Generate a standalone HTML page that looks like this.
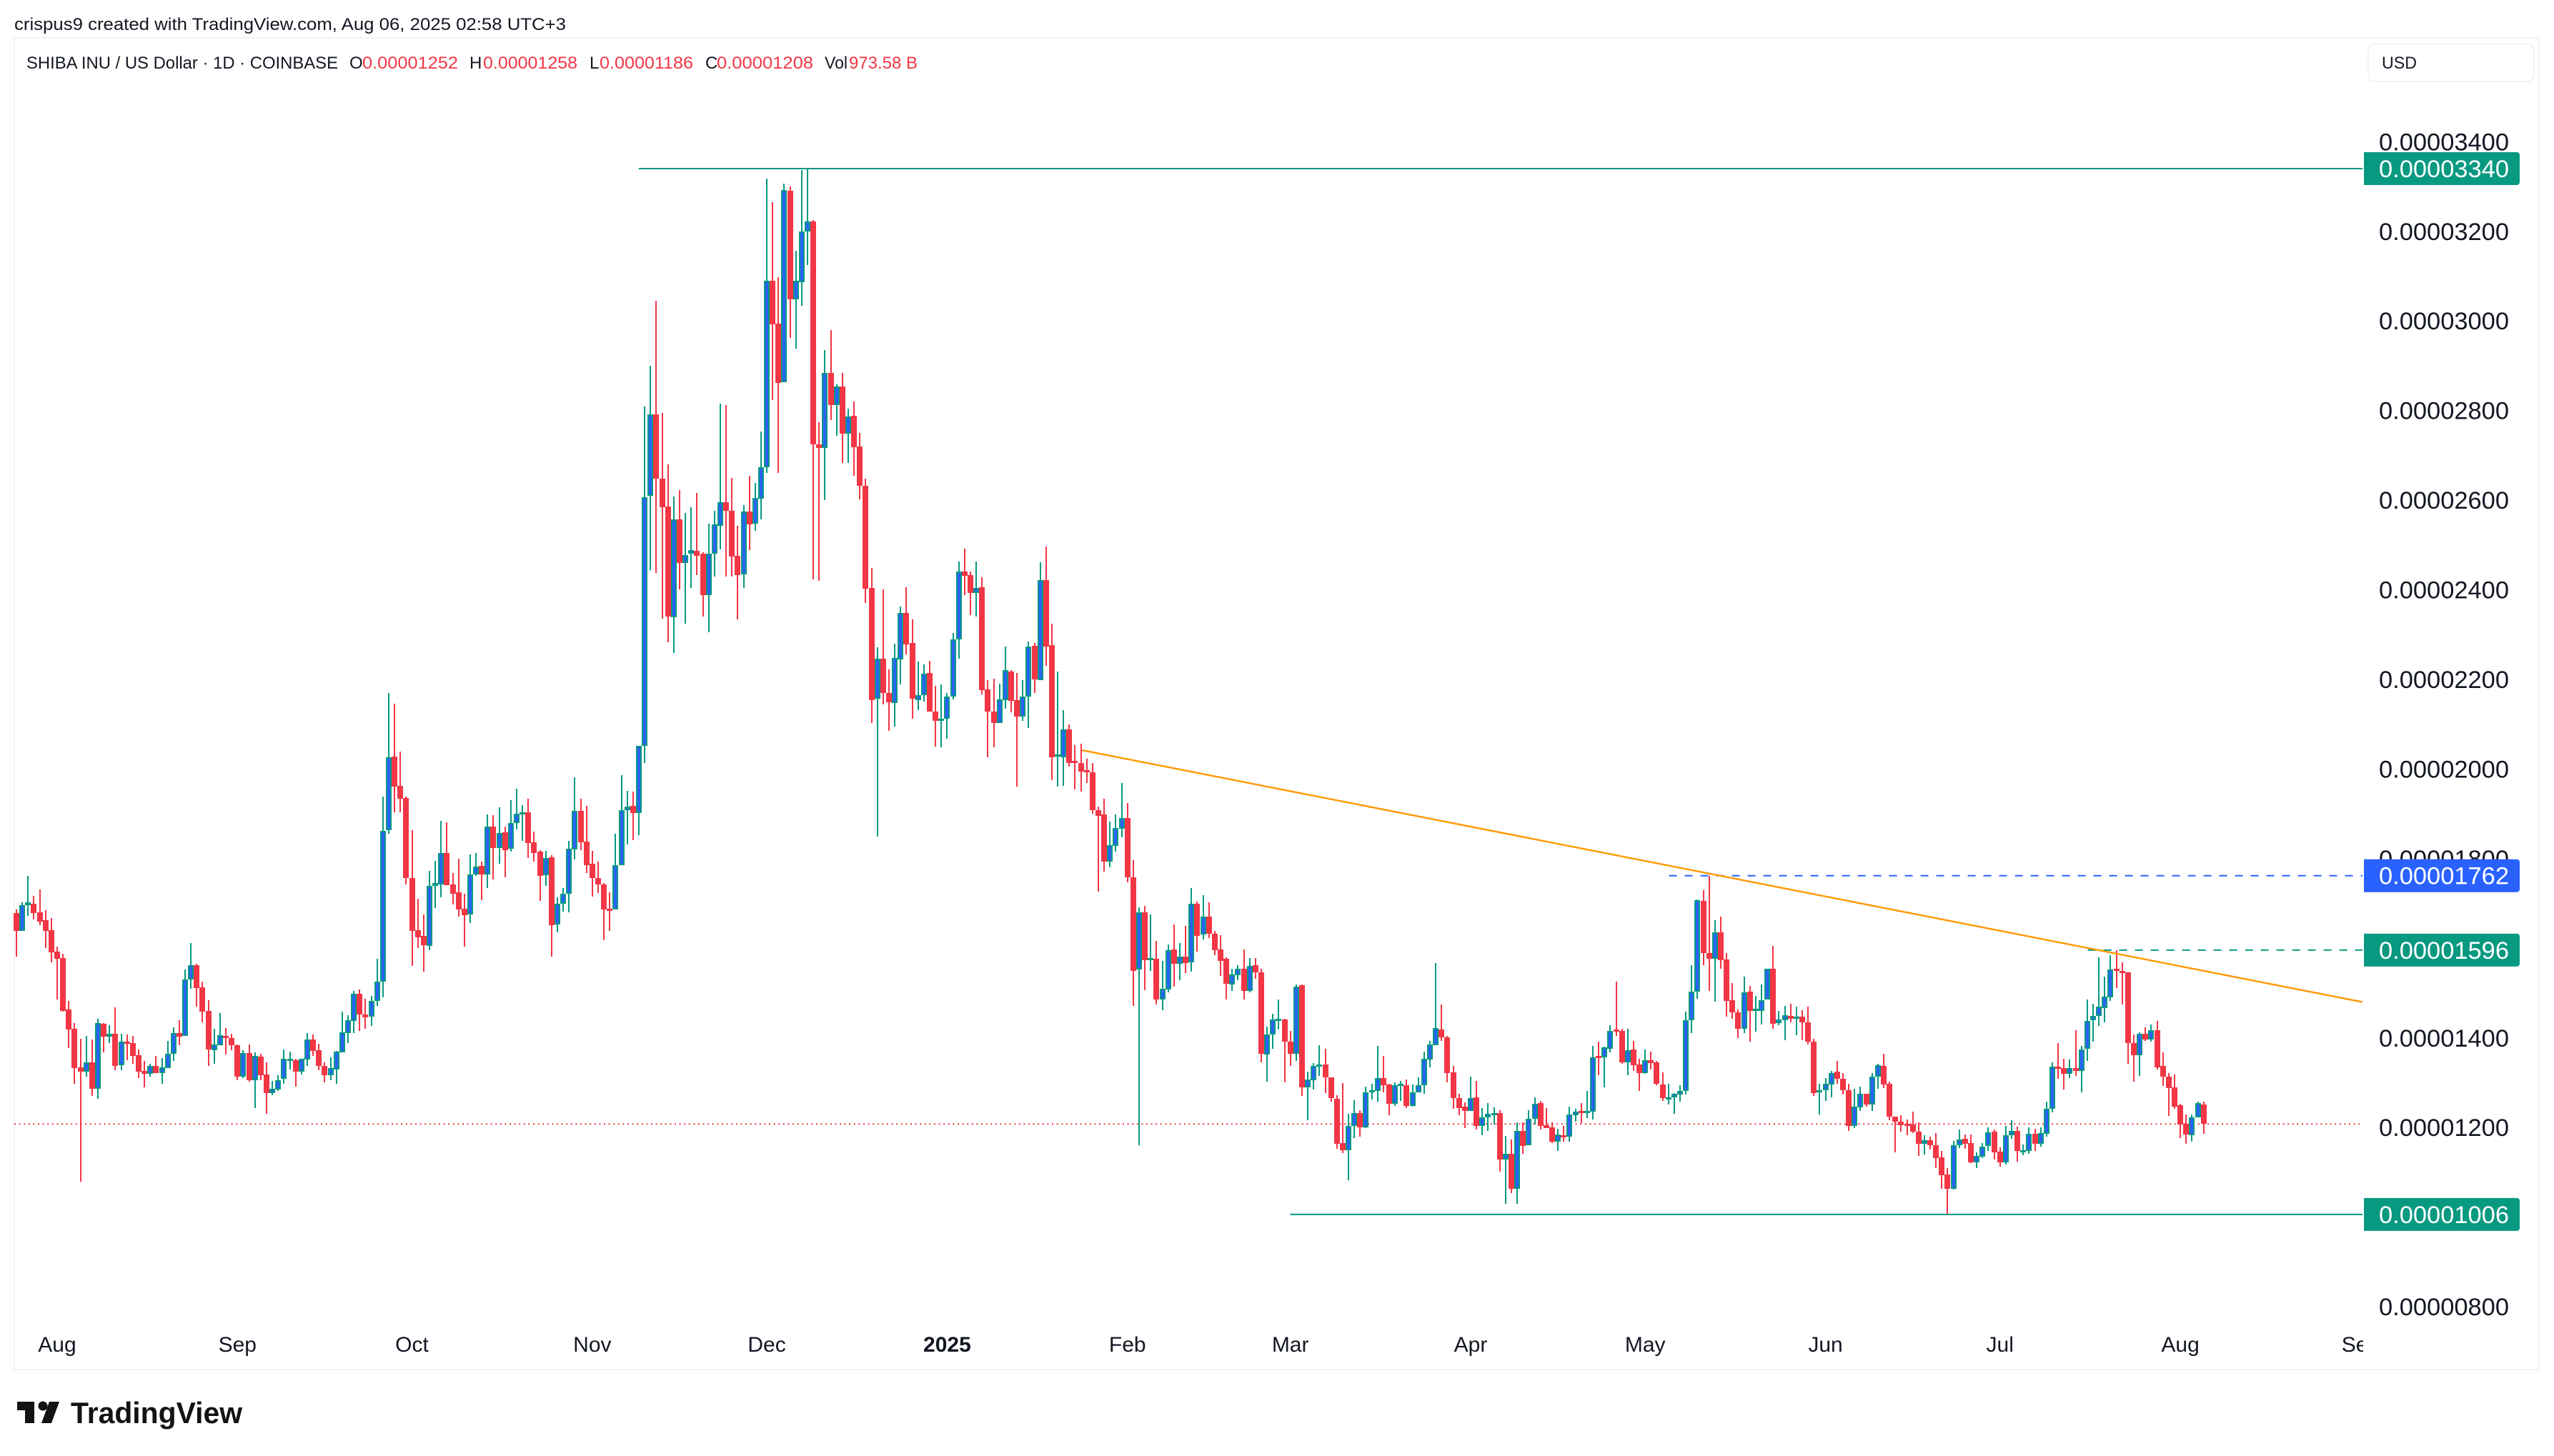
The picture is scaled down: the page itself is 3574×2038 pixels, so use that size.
<!DOCTYPE html>
<html lang="en">
<head>
<meta charset="utf-8">
<title>SHIBA INU / US Dollar chart</title>
<style>
html,body{margin:0;padding:0;background:#fff;width:3574px;height:2038px;overflow:hidden}
svg{display:block}
text{font-family:"Liberation Sans",sans-serif}
</style>
</head>
<body>
<svg id="chart" xmlns="http://www.w3.org/2000/svg" width="3574" height="2038" viewBox="0 0 3574 2038">
  <defs>
    <clipPath id="time-clip"><rect x="20" y="1860" width="3287" height="50"/></clipPath>
  </defs>
  <rect x="0" y="0" width="3574" height="2038" fill="#ffffff"/>
  <rect x="20" y="53" width="3533" height="1864" fill="none" stroke="#f3f3f3" stroke-width="2"/>

  <text x="20" y="42" font-size="24" fill="#131722" textLength="772" lengthAdjust="spacingAndGlyphs">crispus9 created with TradingView.com, Aug 06, 2025 02:58 UTC+3</text>

  <g font-size="24">
    <text x="37" y="96" fill="#131722" textLength="436" lengthAdjust="spacingAndGlyphs">SHIBA INU / US Dollar · 1D · COINBASE</text>
    <text x="489" y="96" fill="#131722">O</text>
    <text x="507" y="96" fill="#f23645" textLength="134" lengthAdjust="spacingAndGlyphs">0.00001252</text>
    <text x="657" y="96" fill="#131722">H</text>
    <text x="676" y="96" fill="#f23645" textLength="132" lengthAdjust="spacingAndGlyphs">0.00001258</text>
    <text x="825" y="96" fill="#131722">L</text>
    <text x="839" y="96" fill="#f23645" textLength="131" lengthAdjust="spacingAndGlyphs">0.00001186</text>
    <text x="987" y="96" fill="#131722">C</text>
    <text x="1003" y="96" fill="#f23645" textLength="135" lengthAdjust="spacingAndGlyphs">0.00001208</text>
    <text x="1154" y="96" fill="#131722" textLength="32" lengthAdjust="spacingAndGlyphs">Vol</text>
    <text x="1188" y="96" fill="#f23645" textLength="96" lengthAdjust="spacingAndGlyphs">973.58 B</text>
  </g>

  <g>
    <rect x="3314" y="62" width="232" height="52" rx="9" fill="#ffffff" stroke="#f2f2f2" stroke-width="2"/>
    <text x="3333" y="96" font-size="24" fill="#131722" textLength="49" lengthAdjust="spacingAndGlyphs">USD</text>
  </g>

  <g id="last-price-layer"></g>
  <g id="candles"></g>
  <g id="drawings"></g>
  <g id="price-axis"></g>
  <g id="price-labels"></g>
  <g id="time-axis" clip-path="url(#time-clip)"></g>

  <g>
    <g fill="#131313">
      <path d="M24 1962H48V1992H35V1974H24Z"/>
      <circle cx="60" cy="1968" r="6.5"/>
      <path d="M69 1962H83L72 1992H58Z"/>
    </g>
    <text x="99" y="1992" font-size="42" font-weight="700" fill="#131313" textLength="240" lengthAdjust="spacingAndGlyphs">TradingView</text>
  </g>
</svg>
<script>
// Prices are expressed in units of 0.00000001 USD.
const openPrices = [
1679,1638,1696,1700,1680,1663,1640,1593,1578,1463,
1420,1334,1324,1346,1287,1432,1403,1409,1339,1392,
1388,1361,1326,1320,1338,1322,1333,1365,1411,1405,
1531,1562,1513,1460,1373,1384,1404,1399,1383,1314,
1366,1306,1358,1318,1277,1285,1308,1352,1351,1324,
1352,1396,1372,1338,1317,1330,1368,1411,1438,1499,
1453,1448,1482,1525,1863,2028,1962,1935,1757,1640,
1628,1605,1739,1743,1812,1742,1725,1688,1675,1764,
1784,1764,1872,1824,1859,1822,1879,1900,1903,1836,
1816,1763,1803,1653,1699,1721,1821,1907,1838,1789,
1757,1742,1689,1686,1786,1909,1918,1902,2052,2609,
2792,2648,2586,2338,2557,2460,2480,2487,2480,2388,
2480,2543,2596,2577,2476,2434,2574,2547,2604,2673,
3090,2994,2863,3291,3048,3087,3199,3222,2725,2717,
2884,2812,2854,2748,2789,2719,2632,2404,2157,2247,
2169,2148,2245,2348,2281,2153,2165,2214,2128,2111,
2112,2161,2289,2441,2433,2393,2405,2178,2128,2102,
2153,2218,2153,2117,2161,2275,2198,2421,2276,2030,
2027,2088,2018,2014,1997,1992,1908,1898,1793,1828,
1866,1891,1758,1552,1680,1574,1577,1485,1508,1597,
1565,1582,1568,1699,1631,1671,1632,1597,1577,1520,
1540,1555,1505,1562,1546,1363,1407,1440,1441,1392,
1364,1517,1289,1306,1338,1340,1312,1264,1165,1149,
1203,1232,1200,1278,1282,1310,1296,1253,1295,1295,
1248,1278,1294,1352,1384,1419,1401,1323,1266,1246,
1237,1267,1204,1222,1231,1232,1129,1142,1064,1192,
1161,1219,1254,1205,1200,1168,1183,1179,1228,1237,
1236,1236,1359,1357,1376,1419,1416,1345,1374,1340,
1321,1350,1345,1296,1266,1267,1273,1281,1439,1504,
1706,1590,1576,1636,1575,1484,1457,1420,1503,1463,
1461,1485,1555,1433,1439,1449,1442,1448,1435,1391,
1278,1283,1296,1324,1308,1284,1203,1245,1276,1251,
1313,1338,1297,1225,1213,1209,1206,1191,1164,1172,
1161,1133,1095,1063,1160,1175,1165,1123,1135,1159,
1191,1146,1123,1183,1192,1148,1148,1186,1164,1186,
1242,1336,1333,1320,1333,1326,1375,1439,1449,1467,
1491,1555,1550,1547,1389,1362,1409,1397,1417,1337,
1313,1289,1249,1208,1183,1223,1252];
const highPrices = [
1687,1702,1762,1717,1731,1685,1668,1604,1588,1482,
1433,1398,1404,1396,1442,1433,1428,1468,1409,1408,
1404,1374,1349,1342,1360,1355,1393,1424,1439,1552,
1612,1565,1525,1484,1420,1455,1422,1409,1385,1372,
1385,1367,1364,1346,1304,1317,1374,1369,1354,1353,
1410,1408,1387,1346,1356,1371,1458,1450,1505,1508,
1487,1493,1577,1939,2170,2146,2039,1938,1864,1710,
1675,1773,1795,1884,1881,1768,1800,1722,1809,1812,
1793,1899,1897,1915,1872,1931,1956,1919,1934,1860,
1819,1817,1808,1714,1734,1840,1982,1934,1918,1817,
1793,1746,1725,1856,1986,1951,1950,2051,2809,2900,
3045,2795,2680,2608,2622,2571,2584,2616,2484,2547,
2577,2816,2813,2650,2543,2589,2654,2638,2753,3317,
3265,3097,3307,3300,3157,3337,3340,3225,2774,2935,
2980,2858,2884,2805,2820,2750,2648,2448,2272,2401,
2222,2279,2363,2405,2334,2240,2233,2241,2185,2189,
2169,2304,2463,2492,2441,2463,2428,2199,2201,2191,
2273,2221,2214,2199,2285,2281,2461,2496,2324,2217,
2131,2099,2053,2056,2023,2014,1916,1933,1882,1898,
1969,1924,1797,1691,1694,1676,1616,1572,1609,1653,
1612,1650,1734,1704,1718,1703,1638,1629,1580,1555,
1562,1597,1578,1578,1555,1425,1454,1486,1443,1416,
1519,1519,1324,1344,1384,1375,1312,1272,1299,1231,
1261,1239,1291,1297,1382,1360,1297,1300,1304,1307,
1296,1312,1370,1394,1567,1475,1404,1338,1275,1256,
1314,1304,1243,1255,1245,1239,1181,1173,1212,1212,
1239,1267,1259,1243,1212,1197,1203,1246,1242,1254,
1282,1382,1392,1381,1428,1526,1420,1420,1393,1353,
1374,1369,1348,1323,1297,1277,1294,1459,1562,1709,
1730,1762,1663,1671,1590,1523,1463,1536,1516,1494,
1519,1555,1606,1460,1471,1476,1470,1462,1470,1398,
1297,1311,1327,1348,1322,1298,1286,1292,1276,1321,
1342,1364,1302,1225,1227,1218,1235,1212,1182,1179,
1187,1147,1110,1170,1195,1184,1184,1145,1165,1200,
1195,1156,1203,1216,1202,1162,1200,1197,1200,1257,
1346,1389,1353,1352,1417,1382,1486,1476,1579,1536,
1585,1596,1568,1547,1408,1413,1424,1430,1438,1368,
1321,1319,1253,1229,1229,1258,1258];
const lowPrices = [
1581,1638,1673,1665,1651,1601,1569,1486,1458,1378,
1297,1079,1313,1271,1264,1367,1389,1328,1328,1350,
1342,1311,1290,1314,1322,1298,1333,1349,1384,1405,
1510,1470,1435,1338,1342,1384,1363,1373,1305,1310,
1303,1244,1306,1231,1272,1282,1298,1330,1292,1319,
1338,1359,1328,1300,1305,1298,1368,1389,1411,1416,
1420,1427,1472,1491,1856,1904,1904,1743,1561,1600,
1548,1596,1690,1713,1741,1698,1671,1604,1657,1762,
1707,1735,1754,1789,1759,1815,1865,1840,1802,1794,
1705,1740,1582,1636,1682,1681,1799,1819,1768,1716,
1724,1618,1638,1686,1786,1832,1842,1853,2013,2444,
2437,2335,2283,2259,2401,2325,2404,2433,2341,2305,
2430,2490,2430,2430,2334,2404,2489,2531,2557,2661,
2823,2661,2863,2962,2939,3034,3125,2423,2420,2600,
2779,2744,2683,2683,2654,2602,2370,2102,1850,2144,
2086,2095,2189,2256,2113,2131,2150,2128,2050,2049,
2068,2155,2247,2388,2344,2341,2166,2026,2049,2102,
2134,2127,1961,2108,2091,2169,2198,2231,1975,1961,
1962,2005,1954,1949,1969,1901,1726,1771,1781,1816,
1847,1747,1472,1161,1507,1549,1475,1462,1502,1515,
1528,1545,1548,1592,1619,1623,1585,1539,1486,1505,
1529,1485,1502,1532,1345,1303,1375,1418,1300,1338,
1349,1270,1217,1285,1315,1277,1257,1152,1143,1083,
1177,1180,1198,1263,1258,1279,1228,1248,1259,1244,
1246,1278,1276,1335,1384,1394,1300,1242,1228,1198,
1237,1195,1182,1193,1207,1102,1029,1053,1029,1142,
1161,1206,1195,1198,1165,1147,1168,1168,1213,1210,
1221,1218,1316,1290,1367,1405,1342,1316,1327,1281,
1320,1330,1294,1260,1252,1231,1257,1273,1411,1487,
1562,1505,1481,1554,1448,1443,1400,1410,1391,1414,
1430,1485,1421,1428,1395,1434,1406,1395,1386,1270,
1229,1260,1267,1297,1274,1192,1198,1237,1247,1237,
1286,1288,1217,1145,1191,1183,1187,1137,1140,1151,
1110,1063,1006,1061,1154,1152,1121,1110,1132,1148,
1129,1112,1118,1175,1124,1138,1142,1148,1158,1180,
1234,1309,1285,1310,1315,1278,1348,1391,1426,1435,
1482,1512,1475,1343,1302,1315,1394,1392,1329,1293,
1226,1241,1176,1164,1168,1223,1186];
const closePrices = [
1638,1696,1702,1679,1659,1638,1591,1577,1461,1419,
1333,1324,1346,1287,1433,1403,1409,1338,1392,1388,
1360,1325,1320,1338,1322,1334,1364,1411,1403,1530,
1562,1511,1459,1374,1385,1406,1399,1383,1314,1366,
1306,1359,1317,1277,1286,1306,1353,1354,1325,1353,
1396,1371,1338,1316,1333,1369,1412,1439,1499,1452,
1446,1482,1526,1862,2027,1961,1934,1756,1639,1625,
1607,1739,1746,1812,1741,1722,1687,1674,1764,1783,
1764,1871,1823,1857,1819,1879,1901,1904,1835,1813,
1762,1801,1652,1699,1721,1822,1906,1837,1786,1756,
1743,1687,1687,1786,1909,1917,1902,2051,2607,2792,
2648,2584,2340,2557,2460,2477,2489,2476,2388,2480,
2546,2596,2577,2474,2433,2574,2546,2605,2673,3090,
2992,2862,3292,3048,3090,3200,3222,2724,2717,2884,
2812,2854,2748,2787,2718,2632,2403,2153,2246,2169,
2149,2248,2348,2278,2157,2165,2212,2128,2108,2112,
2162,2289,2441,2431,2393,2404,2176,2128,2102,2155,
2221,2152,2117,2162,2273,2200,2421,2274,2027,2033,
2088,2014,2016,1995,1995,1908,1895,1793,1830,1868,
1891,1758,1550,1681,1574,1578,1485,1509,1595,1566,
1582,1567,1699,1628,1670,1632,1595,1572,1521,1541,
1555,1505,1561,1546,1364,1407,1441,1442,1392,1364,
1514,1289,1307,1337,1340,1312,1265,1164,1149,1203,
1232,1200,1278,1283,1310,1295,1253,1294,1297,1248,
1279,1295,1353,1385,1422,1402,1321,1266,1244,1237,
1266,1204,1223,1230,1233,1129,1142,1064,1192,1159,
1219,1253,1204,1199,1168,1184,1179,1229,1236,1234,
1237,1357,1357,1379,1416,1416,1345,1372,1339,1321,
1350,1344,1297,1266,1268,1275,1282,1439,1503,1708,
1589,1576,1636,1573,1483,1457,1420,1502,1461,1465,
1484,1555,1432,1441,1450,1442,1447,1434,1391,1277,
1284,1298,1322,1308,1283,1204,1246,1276,1251,1313,
1339,1296,1224,1213,1205,1206,1190,1163,1171,1161,
1132,1093,1063,1160,1174,1164,1122,1136,1158,1189,
1144,1122,1182,1192,1147,1150,1186,1164,1187,1241,
1336,1332,1320,1333,1326,1374,1438,1449,1469,1492,
1553,1553,1548,1388,1362,1409,1397,1417,1335,1313,
1288,1247,1207,1184,1222,1254,1208];

const priceTicks = [3400,3200,3000,2800,2600,2400,2200,2000,1800,1600,1400,1200,1000,800];
const monthLabels = ['Aug','Sep','Oct','Nov','Dec','2025','Feb','Mar','Apr','May','Jun','Jul','Aug','Sep'];
const monthBarIndex = [7,38,68,99,129,160,191,219,250,280,311,341,372,403];
const lastClose = 1208;
const highLevel = 3340;
const highLevelStartBar = 107;
const lowLevel = 1006;
const lowLevelStartBar = 219;
const swingHighLevel = 1762;
const swingHighStartBar = 284.1;
const swingLowerHighLevel = 1596;
const swingLowerHighStartBar = 356.1;
const trendStartBar = 183.2;
const trendStartPrice = 2042;
const trendEndBar = 403.3;
const trendEndPrice = 1480;

const SVG_NS = 'http://www.w3.org/2000/svg';
const GREEN = '#089981', RED = '#f23645', BLUE = '#2962ff', ORANGE = '#ff9800', INK = '#131722';
const PLOT_LEFT = 20, PLOT_RIGHT = 3306;

function xAt(bar) { return 23 + 8.14 * bar; }
function yAt(price) { return 236 + (3340 - price) * 0.6272; }
function make(tag, attrs) {
  const el = document.createElementNS(SVG_NS, tag);
  for (const k in attrs) el.setAttribute(k, attrs[k]);
  return el;
}
function fmt(price) { return '0.' + String(price).padStart(8, '0'); }

const candleLayer = document.getElementById('candles');
for (let i = 0; i < openPrices.length; i++) {
  const up = closePrices[i] >= openPrices[i];
  const cx = Math.round(xAt(i));
  const hi = Math.round(yAt(highPrices[i]));
  const lo = Math.round(yAt(lowPrices[i]));
  const top = Math.round(yAt(Math.max(openPrices[i], closePrices[i])));
  const bot = Math.round(yAt(Math.min(openPrices[i], closePrices[i])));
  const h = Math.max(bot - top, 3);
  const color = up ? GREEN : RED;
  const wick = make('rect', {x: cx - 1, y: hi, width: 2, height: Math.max(lo - hi, 1), fill: color});
  
  
  candleLayer.appendChild(wick);
  const body = make('rect', {x: cx - 4, y: top, width: 8, height: h, fill: color});
  
  
  candleLayer.appendChild(body);
  if (up && h > 4) {
    const inner = make('rect', {x: cx - 2, y: top + 2, width: 4, height: h - 4, fill: BLUE});
    
    
    candleLayer.appendChild(inner);
  }
}

const lastLayer = document.getElementById('last-price-layer');
const lastLine = make('line', {x1: PLOT_LEFT, x2: PLOT_RIGHT, y1: yAt(lastClose), y2: yAt(lastClose), stroke: RED, 'stroke-width': 2, 'stroke-dasharray': '2 4.6'});


lastLayer.appendChild(lastLine);

const drawLayer = document.getElementById('drawings');
const highLine = make('line', {x1: xAt(highLevelStartBar), x2: PLOT_RIGHT, y1: yAt(highLevel), y2: yAt(highLevel), stroke: GREEN, 'stroke-width': 2});


drawLayer.appendChild(highLine);

const lowLine = make('line', {x1: xAt(lowLevelStartBar), x2: PLOT_RIGHT, y1: yAt(lowLevel), y2: yAt(lowLevel), stroke: GREEN, 'stroke-width': 2});


drawLayer.appendChild(lowLine);

const swingHighLine = make('line', {x1: xAt(swingHighStartBar), x2: PLOT_RIGHT, y1: yAt(swingHighLevel), y2: yAt(swingHighLevel), stroke: BLUE, 'stroke-width': 2, 'stroke-dasharray': '11 11'});


drawLayer.appendChild(swingHighLine);

const lowerHighLine = make('line', {x1: xAt(swingLowerHighStartBar), x2: PLOT_RIGHT, y1: yAt(swingLowerHighLevel), y2: yAt(swingLowerHighLevel), stroke: GREEN, 'stroke-width': 2, 'stroke-dasharray': '11 11'});


drawLayer.appendChild(lowerHighLine);

const trendLine = make('line', {x1: xAt(trendStartBar), y1: yAt(trendStartPrice), x2: xAt(trendEndBar), y2: yAt(trendEndPrice), stroke: ORANGE, 'stroke-width': 2.4});


drawLayer.appendChild(trendLine);

const priceAxis = document.getElementById('price-axis');
priceTicks.forEach(function (p) {
  const t = make('text', {x: 3329, y: yAt(p) + 12, 'font-size': 34, fill: INK, textLength: 182, lengthAdjust: 'spacingAndGlyphs'});
  t.textContent = fmt(p);
  
  
  priceAxis.appendChild(t);
});

const levelPrices = [highLevel, swingHighLevel, swingLowerHighLevel, lowLevel];
const levelColors = [GREEN, BLUE, GREEN, GREEN];
const labelLayer = document.getElementById('price-labels');
levelPrices.forEach(function (p, k) {
  const cy = yAt(p);
  const box = make('path', {d: 'M3308 ' + (cy - 23) + 'H3522a4 4 0 0 1 4 4V' + (cy + 19) + 'a4 4 0 0 1 -4 4H3308Z', fill: levelColors[k]});
  
  
  labelLayer.appendChild(box);
  const t = make('text', {x: 3329, y: cy + 12, 'font-size': 34, fill: '#ffffff', textLength: 182, lengthAdjust: 'spacingAndGlyphs'});
  t.textContent = fmt(p);
  
  
  labelLayer.appendChild(t);
});

const timeAxis = document.getElementById('time-axis');
monthLabels.forEach(function (label, k) {
  const t = make('text', {x: xAt(monthBarIndex[k]), y: 1892, 'font-size': 30, fill: INK, 'text-anchor': 'middle'});
  if (label === '2025') t.setAttribute('font-weight', '700');
  t.textContent = label;
  
  
  timeAxis.appendChild(t);
});
</script>
</body>
</html>
